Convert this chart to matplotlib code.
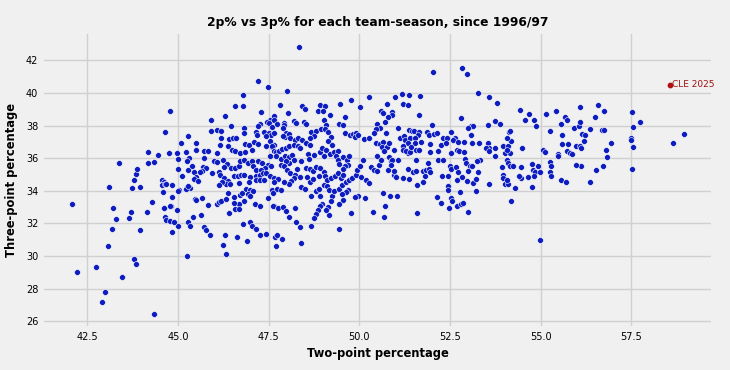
import numpy as np
import matplotlib.pyplot as plt

# (2p%, 3p%) per team-season, grouped by area of the plot
far_left = [
    (42.09, 33.17), (42.22, 29.0), (42.74, 29.3), (42.91, 27.2), (43.0, 27.8), (43.45, 28.73),
    (43.07, 30.63), (43.18, 31.67), (43.28, 32.29), (43.21, 32.96), (43.09, 34.21), (43.73, 34.17),
    (43.96, 34.21), (43.8, 29.81), (43.84, 29.53), (43.7, 32.7), (43.65, 32.3), (43.94, 31.57),
    (44.15, 32.72), (43.79, 34.68), (43.84, 35.03), (43.37, 35.68), (44.17, 36.36), (44.16, 35.7),
    (43.87, 35.36), (44.35, 26.46), (45.26, 29.98),
]

left = [
    (46.78, 39.89), (46.57, 39.18), (46.78, 39.18), (44.79, 38.89), (46.31, 38.6), (45.9, 38.34),
    (47.29, 38.83), (47.64, 38.56), (47.53, 38.36), (47.45, 38.22), (47.52, 38.16), (46.47, 37.95),
    (45.9, 37.64), (46.09, 37.71), (46.2, 37.69), (44.65, 37.6), (45.29, 37.38), (46.83, 37.83),
    (46.81, 37.52), (47.25, 38.07), (47.2, 37.99), (47.15, 37.58), (47.18, 37.42), (47.38, 37.62),
    (47.5, 37.52), (47.57, 37.42), (47.44, 37.36), (46.19, 37.21), (46.41, 37.17), (46.52, 37.21),
    (46.59, 37.23), (46.17, 36.81), (46.37, 36.72), (46.84, 36.87), (46.95, 36.83), (47.09, 36.99),
    (47.21, 36.87), (47.42, 36.76), (47.58, 36.68), (47.66, 36.83), (45.08, 36.91), (45.5, 36.93),
    (45.5, 36.52), (45.71, 36.42), (45.83, 36.46), (46.08, 36.33), (46.48, 36.5), (46.58, 36.42),
    (46.72, 36.33), (46.84, 36.38), (47.03, 36.48), (44.44, 36.21), (44.33, 35.78), (44.74, 36.31),
    (44.96, 36.31), (45.23, 36.38), (45.0, 35.95), (45.31, 36.01), (45.24, 35.8), (45.72, 36.03),
    (46.0, 35.82), (46.07, 35.78), (46.23, 35.9), (46.36, 35.64), (46.28, 35.46), (46.46, 35.39),
    (46.56, 35.39), (46.67, 35.54), (46.71, 35.8), (46.83, 35.89), (46.94, 35.68), (47.05, 35.8),
    (47.08, 35.54), (47.14, 35.29), (47.2, 35.8), (47.33, 35.68), (47.48, 35.6), (47.57, 35.5),
    (47.39, 35.39), (47.3, 35.27), (45.39, 35.5), (45.69, 35.46), (45.77, 35.37), (45.66, 35.21),
    (45.6, 35.13), (45.0, 35.33), (45.27, 35.27), (45.1, 34.92), (45.44, 35.17), (45.5, 34.84),
    (45.43, 34.72), (45.56, 34.6), (45.95, 35.11), (46.12, 35.13), (46.17, 34.96), (46.27, 34.8),
    (46.37, 34.6), (46.33, 34.41), (46.43, 34.41), (46.22, 34.51), (46.12, 34.37), (46.54, 34.88),
    (46.66, 34.9), (46.75, 34.99), (46.83, 34.96), (46.99, 34.84), (47.14, 34.92), (47.25, 34.99),
    (47.35, 35.07), (47.44, 35.09), (47.55, 34.92), (47.66, 34.8), (46.68, 34.45), (46.97, 34.51),
    (47.14, 34.68), (47.27, 34.64), (47.38, 34.68), (44.57, 34.68), (44.62, 34.54), (44.57, 34.37),
    (44.65, 34.39), (44.83, 34.37), (44.6, 33.92), (45.02, 34.02), (45.26, 34.25), (45.33, 34.17),
    (45.23, 34.09), (44.84, 33.59), (44.28, 33.33), (45.47, 33.49), (45.51, 33.41), (45.65, 33.57),
    (45.82, 33.12), (46.07, 33.19), (46.13, 33.31), (46.19, 33.39), (46.33, 33.47), (46.38, 33.88),
    (46.54, 33.59), (46.71, 33.74), (46.77, 33.84), (46.87, 34.13), (47.0, 34.04), (46.92, 33.78),
    (47.06, 33.96), (46.99, 33.66), (46.83, 33.35), (46.67, 33.21), (46.54, 33.25), (46.42, 32.65),
    (46.56, 32.88), (46.68, 32.88), (47.13, 33.17), (47.25, 33.04), (47.47, 33.53), (47.65, 33.04),
    (44.61, 32.94), (44.8, 33.06), (44.97, 32.8), (45.63, 32.49), (45.41, 32.41), (45.28, 32.08),
    (45.34, 31.82), (45.0, 31.86), (44.65, 32.37), (44.68, 32.2), (44.77, 32.14), (44.88, 32.08),
    (44.83, 31.47), (45.73, 31.77), (45.77, 31.61), (45.89, 31.26), (46.29, 31.26), (46.25, 30.69),
    (46.64, 31.18), (46.89, 30.92), (46.78, 31.96), (47.0, 32.06), (47.05, 31.86), (47.15, 31.65),
    (47.27, 31.28), (47.42, 31.37), (46.33, 30.14), (47.68, 31.14), (47.2, 40.71), (47.47, 40.35),
    (44.67, 34.44), (44.99, 33.99), (45.27, 34.29), (44.79, 33.09), (44.62, 32.96),
]

middle = [
    (48.33, 42.8), (48.0, 40.14), (47.82, 39.24), (48.43, 39.22), (48.51, 39.03), (48.92, 39.24),
    (49.06, 39.22), (48.86, 38.87), (48.99, 38.87), (49.19, 38.63), (49.47, 39.32), (49.76, 39.55),
    (50.02, 39.16), (50.26, 39.75), (50.76, 39.3), (50.61, 38.91), (50.66, 38.77), (50.89, 38.83),
    (50.89, 38.65), (50.78, 38.5), (50.71, 38.2), (50.5, 38.13), (50.57, 37.85), (50.47, 37.79),
    (47.64, 38.58), (47.64, 38.34), (47.6, 37.89), (47.65, 37.52), (47.73, 38.13), (47.92, 38.16),
    (47.93, 38.03), (47.89, 37.83), (47.97, 37.52), (47.96, 37.32), (48.07, 37.46), (47.89, 37.36),
    (48.1, 37.23), (48.19, 38.3), (48.25, 38.18), (48.03, 38.79), (48.47, 38.2), (48.52, 38.07),
    (48.22, 37.13), (48.31, 37.23), (48.41, 37.13), (48.66, 37.58), (48.8, 37.66), (48.75, 37.34),
    (48.64, 37.23), (48.52, 36.93), (49.04, 38.36), (49.07, 38.05), (48.94, 37.81), (49.06, 37.79),
    (49.15, 37.58), (49.21, 37.3), (49.14, 37.03), (49.45, 38.07), (49.54, 38.03), (49.6, 38.5),
    (49.61, 37.54), (49.74, 37.4), (49.83, 37.5), (49.92, 37.52), (49.89, 37.3), (49.96, 37.4),
    (50.14, 37.19), (50.26, 37.23), (50.41, 37.52), (50.47, 36.95), (50.57, 36.89), (50.66, 36.97),
    (50.63, 36.68), (50.77, 36.66), (50.81, 36.93), (50.74, 37.52), (47.55, 37.03), (47.58, 36.76),
    (47.64, 36.46), (47.7, 36.38), (47.78, 36.42), (47.87, 36.56), (47.97, 36.6), (48.07, 36.72),
    (48.2, 36.79), (48.31, 36.72), (48.36, 36.6), (47.55, 36.11), (47.69, 36.11), (47.83, 35.97),
    (47.95, 36.11), (48.06, 36.05), (48.14, 36.17), (48.21, 35.91), (48.06, 35.7), (47.97, 35.84),
    (47.83, 35.58), (48.64, 36.8), (48.58, 36.27), (48.61, 35.93), (48.76, 36.19), (48.92, 36.36),
    (48.97, 36.6), (49.07, 36.52), (49.03, 36.11), (49.19, 36.23), (49.29, 36.4), (49.25, 36.8),
    (49.4, 36.42), (49.35, 36.11), (49.42, 35.91), (49.54, 36.05), (49.65, 35.89), (49.73, 36.15),
    (49.69, 35.6), (49.62, 35.54), (49.54, 35.33), (49.44, 35.66), (48.38, 35.8), (48.53, 35.39),
    (48.64, 35.33), (48.73, 35.19), (48.81, 35.46), (48.92, 35.37), (49.03, 35.13), (47.92, 35.5),
    (48.01, 35.29), (48.1, 35.09), (48.27, 35.33), (48.22, 34.96), (48.2, 34.78), (48.12, 34.6),
    (48.06, 34.41), (47.92, 34.56), (47.77, 34.72), (47.64, 34.56), (47.58, 34.07), (47.74, 34.13),
    (47.83, 34.07), (47.62, 33.86), (48.36, 34.84), (48.55, 34.84), (48.64, 34.56), (48.73, 34.72),
    (48.89, 34.88), (49.05, 34.92), (49.1, 34.68), (49.21, 34.78), (49.32, 34.92), (49.4, 35.09),
    (49.49, 34.78), (49.56, 34.99), (48.4, 34.23), (48.5, 34.13), (48.68, 33.66), (48.8, 33.96),
    (48.89, 34.11), (49.03, 34.37), (49.12, 34.27), (49.17, 34.07), (48.93, 33.66), (49.24, 33.7),
    (49.3, 33.96), (49.44, 34.13), (49.53, 34.33), (49.63, 34.56), (49.72, 34.68), (49.81, 34.78),
    (49.9, 34.99), (49.7, 34.07), (49.63, 33.9), (49.56, 33.45), (49.95, 35.29), (50.02, 35.54),
    (50.09, 35.91), (50.04, 34.84), (50.18, 34.68), (50.27, 34.47), (50.32, 35.46), (50.41, 35.29),
    (50.5, 35.19), (50.55, 35.6), (50.49, 36.11), (50.6, 35.91), (50.69, 36.42), (50.83, 36.05),
    (50.87, 35.8), (50.8, 35.27), (50.96, 34.99), (49.97, 33.7), (49.89, 33.62), (50.16, 33.55),
    (50.65, 33.84), (50.84, 33.66), (48.98, 33.19), (48.92, 33.04), (48.86, 32.84), (48.82, 32.59),
    (48.75, 32.33), (48.66, 31.86), (49.14, 32.98), (49.16, 32.53), (49.07, 32.8), (49.23, 33.39),
    (49.44, 33.17), (49.51, 33.8), (47.62, 33.08), (47.77, 32.94), (47.9, 33.0), (47.99, 32.78),
    (48.22, 32.94), (48.06, 32.37), (48.26, 32.06), (48.36, 31.77), (47.87, 31.04), (47.73, 31.3),
    (47.7, 30.59), (48.4, 30.79), (49.43, 31.67), (49.77, 32.63), (50.37, 32.71), (50.69, 32.39),
    (50.71, 33.08),
]

right = [
    (50.98, 39.75), (51.18, 39.95), (51.38, 39.85), (51.68, 39.79), (51.21, 39.32), (51.33, 39.24),
    (51.66, 38.67), (52.8, 38.46), (53.27, 39.99), (53.59, 39.73), (53.81, 39.38), (53.55, 38.01),
    (53.74, 38.26), (53.87, 38.09), (52.03, 41.29), (52.84, 41.53), (52.98, 41.14), (51.06, 37.83),
    (51.37, 37.75), (51.45, 37.68), (51.52, 37.64), (51.66, 37.58), (51.61, 37.4), (51.87, 37.6),
    (51.91, 37.44), (52.0, 38.05), (52.05, 37.48), (52.13, 37.52), (51.13, 37.21), (51.24, 37.38),
    (51.27, 37.09), (51.41, 37.23), (51.54, 37.23), (51.69, 36.99), (51.54, 36.93), (51.33, 36.93),
    (51.21, 36.76), (51.2, 36.52), (51.33, 36.31), (51.29, 36.42), (51.4, 36.38), (51.56, 36.5),
    (51.65, 36.52), (51.43, 36.68), (51.95, 36.87), (51.96, 36.4), (52.18, 36.42), (52.3, 37.23),
    (52.26, 36.83), (52.42, 37.23), (52.52, 37.58), (52.65, 37.23), (52.58, 37.13), (52.72, 36.97),
    (52.88, 37.01), (52.4, 36.93), (52.52, 36.31), (52.69, 36.52), (52.76, 36.42), (52.88, 36.36),
    (50.96, 36.52), (50.9, 35.86), (50.87, 35.6), (51.06, 35.86), (50.95, 35.19), (51.01, 34.84),
    (51.2, 34.78), (51.33, 35.35), (51.38, 34.72), (51.47, 35.15), (51.57, 35.19), (51.57, 35.86),
    (51.77, 35.19), (51.83, 35.25), (51.91, 35.35), (51.96, 35.13), (51.59, 34.37), (51.75, 34.52),
    (51.8, 34.88), (51.89, 35.7), (52.18, 35.86), (52.32, 35.91), (52.49, 35.5), (52.52, 35.33),
    (52.46, 34.88), (52.28, 34.88), (52.68, 35.46), (52.72, 35.13), (52.7, 34.68), (52.84, 34.84),
    (52.92, 35.95), (52.95, 35.7), (53.04, 35.5), (53.11, 35.5), (53.0, 35.19), (52.98, 34.58),
    (53.13, 34.47), (53.21, 34.74), (53.27, 35.13), (53.32, 35.86), (53.25, 35.82), (52.44, 34.27),
    (52.46, 34.07), (52.53, 33.55), (52.55, 33.35), (52.48, 32.96), (52.26, 33.25), (52.15, 33.62),
    (52.78, 33.92), (52.7, 33.04), (52.81, 33.17), (52.86, 33.25), (53.01, 32.7), (53.21, 33.96),
    (51.59, 32.63), (51.04, 33.66), (53.09, 37.99), (53.14, 37.95), (53.01, 37.85), (53.07, 37.44),
    (53.11, 36.93), (53.29, 36.93), (53.55, 36.93), (53.59, 36.62), (53.5, 36.62), (53.58, 36.42),
    (53.75, 36.62), (53.96, 36.72), (54.1, 36.76), (54.19, 37.03), (54.06, 37.23), (54.12, 37.58),
    (54.17, 37.7), (54.06, 36.42), (54.01, 36.31), (54.15, 36.31), (54.08, 36.52), (53.73, 36.11),
    (54.06, 35.86), (54.1, 35.7), (54.15, 35.54), (53.94, 35.46), (53.97, 34.99), (53.96, 34.78),
    (54.01, 34.41), (54.1, 34.43), (54.06, 34.68), (54.24, 35.54), (54.3, 34.15), (54.18, 33.35),
    (53.58, 34.41),
]

far_right = [
    (54.44, 38.94), (54.68, 38.73), (54.57, 38.32), (54.82, 38.32), (54.88, 37.99), (55.14, 38.73),
    (55.43, 38.91), (55.27, 37.69), (55.57, 38.12), (55.68, 38.53), (55.73, 38.32), (55.91, 37.85),
    (56.06, 37.99), (56.08, 39.12), (56.1, 38.24), (56.15, 37.5), (56.23, 37.44), (56.37, 37.79),
    (56.49, 38.53), (56.59, 39.26), (56.76, 38.89), (56.69, 37.71), (56.75, 37.71), (54.49, 36.62),
    (55.08, 36.52), (55.13, 36.38), (55.6, 37.42), (55.58, 36.87), (55.75, 36.89), (55.73, 36.42),
    (55.81, 36.32), (55.87, 36.26), (55.48, 36.26), (55.49, 36.11), (55.97, 36.73), (56.1, 36.77),
    (56.11, 36.62), (56.21, 37.03), (56.12, 35.5), (55.97, 35.6), (56.81, 36.52), (56.84, 36.07),
    (56.93, 36.95), (56.73, 35.5), (56.53, 35.29), (54.47, 35.46), (54.75, 35.66), (54.78, 35.29),
    (54.85, 35.13), (54.93, 35.54), (54.98, 35.13), (55.26, 35.74), (55.3, 35.5), (55.25, 35.13),
    (55.28, 34.88), (54.47, 34.8), (54.64, 34.82), (54.4, 34.88), (54.82, 34.88), (54.75, 34.21),
    (55.55, 34.64), (55.71, 34.55), (56.36, 34.55), (54.99, 31.0), (57.53, 38.83), (57.75, 38.24),
    (57.56, 37.89), (57.48, 37.27), (57.49, 37.09), (57.56, 36.68), (57.53, 35.33), (58.65, 36.91),
    (58.95, 37.46),
]

cle_label = "CLE 2025"
cle_2025 = (58.56, 40.49)

pts = np.array(far_left + left + middle + right + far_right)

bg = '#f0f0f0'
fig = plt.figure(figsize=(7.3, 3.7), dpi=100, facecolor=bg)
ax = fig.add_axes([0.060, 0.119, 0.914, 0.788], facecolor=bg)

ax.scatter(pts[:, 0], pts[:, 1], s=18, color='#0d1cc0', edgecolors='white', linewidths=0.4, zorder=3)
ax.scatter([cle_2025[0]], [cle_2025[1]], s=10, color='#b01010', zorder=4)
ax.annotate(cle_label, cle_2025, xytext=(1.5, 0.5), textcoords='offset points',
            color='#a01010', fontsize=6.5, va='center', ha='left')

ax.set_xlim(41.3, 59.7)
ax.set_ylim(25.7, 43.6)
ax.set_xticks(np.arange(42.5, 58, 2.5))
ax.set_yticks(np.arange(26, 43, 2))
ax.grid(True, color='#d0d0d0', linewidth=1, zorder=0)
ax.set_axisbelow(True)
for s in ax.spines.values():
    s.set_visible(False)
ax.tick_params(length=0, labelsize=7, pad=4)

ax.set_title('2p% vs 3p% for each team-season, since 1996/97', fontsize=8.8, fontweight='bold', pad=6)
ax.set_xlabel('Two-point percentage', fontsize=8.3, fontweight='bold', labelpad=4)
ax.set_ylabel('Three-point percentage', fontsize=8.3, fontweight='bold', labelpad=6)

fig.savefig('out.png', dpi=100, facecolor=bg)
